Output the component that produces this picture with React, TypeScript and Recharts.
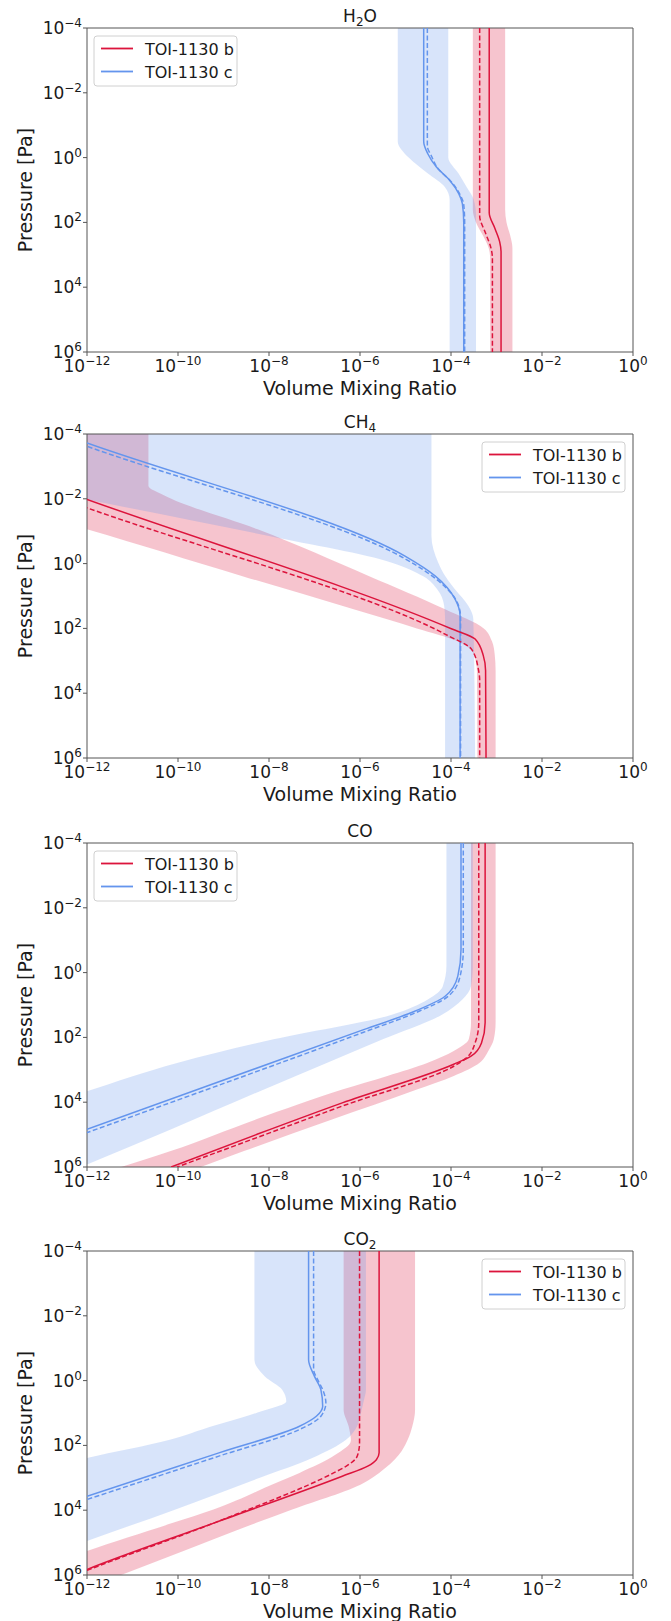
import React from 'react';
import { ComposedChart, Area, Line, XAxis, YAxis, ReferenceArea } from 'recharts';

// All values are log10 exponents: p = log10(Pressure [Pa]), v = log10(VMR)
const xTicks = [-12, -10, -8, -6, -4, -2, 0];
const yTicks = [-4, -2, 0, 2, 4, 6];
const planetNames = ['TOI-1130 b', 'TOI-1130 c'];
const planetColors = ['#DC143C', '#6495ED'];
const panelTops = [28, 434, 843, 1251];

// ---------- H2O ----------
// band rows: [p, low, high]
const h2oBBand = [[-4, -3.52, -2.81], [1.6, -3.52, -2.81], [2.0, -3.45, -2.78], [2.4, -3.3, -2.7], [2.8, -3.17, -2.65], [3.1, -3.14, -2.65], [6, -3.14, -2.65]];
const h2oBMedian = [[-4, -3.16], [1.7, -3.16], [2.2, -3.03], [2.6, -2.93], [2.9, -2.9], [6, -2.9]];
const h2oBDashed = [[-4, -3.37], [1.8, -3.37], [2.3, -3.25], [2.8, -3.12], [3.1, -3.09], [6, -3.09]];
const h2oCBand = [[-4, -5.17, -4.06], [-0.5, -5.17, -4.06], [0.0, -4.93, -4.06], [0.5, -4.5, -3.83], [0.9, -4.14, -3.66], [1.3, -4.03, -3.5], [1.8, -4.03, -3.45], [6, -4.03, -3.45]];
const h2oCMedian = [[-4, -4.6], [-0.5, -4.6], [-0.12, -4.51], [0.29, -4.32], [0.7, -4.03], [1.11, -3.83], [1.42, -3.75], [2.0, -3.72], [6, -3.72]];
const h2oCDashed = [[-4, -4.52], [-0.35, -4.52], [-0.05, -4.43], [0.35, -4.28], [0.72, -4.01], [1.12, -3.81], [1.45, -3.72], [2.0, -3.7], [6, -3.7]];

// ---------- CH4 ----------
const ch4BBandLowHigh = [[-4, -19.3, -10.65], [-2.4, -15.3, -10.65], [-2.1, -14.6, -10.3], [-1.06, -12, -8.25], [0.38, -8.6, -5.81], [1.41, -6.14, -4.13], [2.0, -4.75, -3.28], [2.4, -3.85, -3.1], [2.8, -3.5, -3.04], [3.3, -3.43, -3.02], [6, -3.42, -3.02]];
const ch4BMedian = [[-4, -16.0], [-1.98, -12], [2.02, -3.98], [2.33, -3.47], [2.84, -3.29], [3.3, -3.24], [6, -3.23]];
const ch4BDashed = [[-4, -16.6], [-1.72, -12], [2.2, -4.1], [2.64, -3.55], [3.25, -3.4], [3.6, -3.37], [6, -3.37]];
const ch4CBand = [[-4, -19, -4.43], [-1.98, -12, -4.43], [-0.85, -8.0, -4.43], [-0.03, -5.3, -4.28], [0.4, -4.6, -4.12], [0.8, -4.3, -3.91], [1.3, -4.15, -3.62], [1.7, -4.13, -3.51], [6, -4.13, -3.47]];
const ch4CMedian = [[-4, -12.56], [-3.72, -12], [-0.23, -5.01], [0.38, -4.35], [1.1, -3.91], [1.61, -3.8], [6, -3.8]];
const ch4CDashed = [[-4, -12.76], [-3.62, -12], [-0.15, -5.01], [0.45, -4.35], [1.15, -3.88], [1.65, -3.79], [6, -3.79]];

// ---------- CO ----------
const coBBand = [[-4, -3.56, -3.02], [1.55, -3.56, -3.02], [2.06, -3.61, -3.06], [2.42, -3.94, -3.18], [2.78, -4.51, -3.37], [3.19, -5.4, -3.94], [3.61, -6.39, -4.75], [4.53, -8.28, -6.6], [5.51, -10.16, -8.55], [6, -11.25, -9.5]];
const coBMedian = [[-4, -3.25], [1.55, -3.25], [2.17, -3.33], [2.58, -3.56], [2.83, -3.94], [4.02, -6.39], [5.0, -8.28], [6, -10.15]];
const coBDashed = [[-4, -3.39], [1.55, -3.39], [2.17, -3.47], [2.63, -3.66], [2.89, -3.94], [4.12, -6.39], [5.1, -8.28], [6, -10.02]];
const coCBand = [[-4, -4.1, -3.52], [-0.2, -4.1, -3.52], [0.42, -4.18, -3.56], [0.83, -4.51, -3.75], [1.3, -5.3, -4.2], [2.06, -7.9, -5.5], [2.78, -10.0, -6.72], [3.66, -12, -8.2], [4.84, -14.5, -10.16], [6, -16.9, -12.13]];
const coCMedian = [[-4, -3.78], [-0.71, -3.78], [0.11, -3.85], [0.73, -4.13], [1.24, -4.88], [1.76, -5.92], [4.84, -12], [6, -14.3]];
const coCDashed = [[-4, -3.73], [-0.71, -3.73], [0.11, -3.8], [0.73, -4.06], [1.24, -4.78], [1.84, -5.92], [4.94, -12], [6, -14.1]];

// ---------- CO2 ----------
const co2BBand = [[-4, -6.36, -4.79], [0.9, -6.36, -4.79], [1.41, -6.25, -4.85], [1.85, -6.2, -4.96], [2.3, -6.55, -5.15], [2.85, -7.33, -5.58], [3.16, -7.85, -5.92], [3.98, -9.22, -7.49], [4.39, -10.11, -8.28], [5.26, -12, -9.88], [6, -13.4, -11.25]];
const co2BMedian = [[-4, -5.58], [2.23, -5.58], [2.44, -5.64], [2.64, -5.83], [2.95, -6.39], [4.39, -9.2], [5.83, -12], [6, -12.3]];
const co2BDashed = [[-4, -6.01], [1.92, -6.01], [2.33, -6.06], [2.64, -6.3], [2.85, -6.58], [4.39, -9.2], [5.86, -12], [6, -12.25]];
const co2CBand = [[-4, -8.32, -5.87], [-0.64, -8.32, -5.87], [-0.13, -8.09, -5.87], [0.28, -7.71, -5.87], [0.64, -7.62, -5.92], [1.0, -8.28, -5.98], [1.5, -9.45, -6.1], [1.82, -10.16, -6.3], [2.39, -12, -7.05], [3.0, -13.7, -8.2], [4.0, -16.5, -10.1], [4.95, -19, -12], [6, -21.5, -14]];
const co2CMedian = [[-4, -7.13], [-0.64, -7.13], [-0.13, -7.0], [0.28, -6.86], [0.79, -6.82], [1.1, -6.96], [1.41, -7.33], [2.23, -9.1], [3.57, -12], [6, -17.2]];
const co2CDashed = [[-4, -7.02], [-0.35, -7.02], [0.0, -6.92], [0.28, -6.82], [0.69, -6.75], [1.1, -6.86], [1.51, -7.33], [2.33, -9.1], [3.67, -12], [6, -17.0]];

const FONT = '"DejaVu Sans", Verdana, sans-serif';
const TEXT = '#1a1a1a';

const toLine = (a: number[][]) => a.map(([p, v]) => ({ p, v }));
const toBand = (a: number[][]) => a.map(([p, lo, hi]) => ({ p, v: [lo, hi] }));

type TitlePart = [string, 'n' | 'sub'];

const panels = [
  { title: [['H', 'n'], ['2', 'sub'], ['O', 'n']] as TitlePart[], legend: 'left', b: [h2oBBand, h2oBMedian, h2oBDashed], c: [h2oCBand, h2oCMedian, h2oCDashed] },
  { title: [['CH', 'n'], ['4', 'sub']] as TitlePart[], legend: 'right', b: [ch4BBandLowHigh, ch4BMedian, ch4BDashed], c: [ch4CBand, ch4CMedian, ch4CDashed] },
  { title: [['CO', 'n']] as TitlePart[], legend: 'left', b: [coBBand, coBMedian, coBDashed], c: [coCBand, coCMedian, coCDashed] },
  { title: [['CO', 'n'], ['2', 'sub']] as TitlePart[], legend: 'right', b: [co2BBand, co2BMedian, co2BDashed], c: [co2CBand, co2CMedian, co2CDashed] },
];

const fmtExp = (n: number) => (n < 0 ? '\u2212' + Math.abs(n) : String(n));

const XTick = (props: any) => {
  const { x, y, payload } = props;
  return (
    <text x={x} y={y + 16} textAnchor="middle" fontFamily={FONT} fontSize={17} fill={TEXT}>
      10<tspan dy={-7} fontSize={12}>{fmtExp(payload.value)}</tspan>
    </text>
  );
};

const YTick = (props: any) => {
  const { x, y, payload } = props;
  return (
    <text x={x - 1} y={y + 6} textAnchor="end" fontFamily={FONT} fontSize={17} fill={TEXT}>
      10<tspan dy={-7} fontSize={12}>{fmtExp(payload.value)}</tspan>
    </text>
  );
};

const W = 671;
const H = 408;
const PT = 28;
const PH = 324;
const PL = 87;
const PR = 633;

function Overlay({ title, legend }: { title: TitlePart[]; legend: string }) {
  const cx = (PL + PR) / 2;
  const boxW = 143;
  const boxH = 50;
  const bx = legend === 'left' ? PL + 7 : PR - 8 - boxW;
  const by = PT + 8;
  return (
    <svg width={W} height={H} style={{ position: 'absolute', left: 0, top: 0, pointerEvents: 'none' }}>
      <text x={cx} y={PT - 6} textAnchor="middle" fontFamily={FONT} fontSize={17} fill={TEXT}>
        {title.map(([t, k], i) =>
          k === 'sub' ? (
            <tspan key={i} dy={4} fontSize={12}>{t}</tspan>
          ) : (
            <tspan key={i} dy={i > 0 && title[i - 1][1] === 'sub' ? -4 : 0}>{t}</tspan>
          )
        )}
      </text>
      <text x={cx} y={PT + PH + 43} textAnchor="middle" fontFamily={FONT} fontSize={19} fill={TEXT}>
        Volume Mixing Ratio
      </text>
      <text x={32} y={PT + PH / 2} textAnchor="middle" fontFamily={FONT} fontSize={19} fill={TEXT} transform={`rotate(-90 32 ${PT + PH / 2})`}>
        Pressure [Pa]
      </text>
      <rect x={bx} y={by} width={boxW} height={boxH} rx={3} fill="#fff" fillOpacity={0.8} stroke="#d0d0d0" strokeWidth={1} />
      {planetNames.map((n, i) => (
        <g key={n}>
          <line x1={bx + 7} x2={bx + 39} y1={by + 12.5 + 23 * i} y2={by + 12.5 + 23 * i} stroke={planetColors[i]} strokeWidth={1.8} />
          <text x={bx + 51} y={by + 18.5 + 23 * i} fontFamily={FONT} fontSize={16} fill={TEXT}>{n}</text>
        </g>
      ))}
    </svg>
  );
}

function Panel({ top, panel }: { top: number; panel: any }) {
  const [bBand, bMed, bDash] = panel.b;
  const [cBand, cMed, cDash] = panel.c;
  const [RED, BLUE] = planetColors;
  return (
    <div style={{ position: 'absolute', left: 0, top: top - PT, width: W, height: H }}>
      <ComposedChart width={W} height={H} layout="vertical" margin={{ top: PT, right: W - PR, bottom: 0, left: 0 }}>
        <XAxis type="number" domain={[-12, 0]} ticks={xTicks} interval={0} allowDataOverflow axisLine={false}
          tickLine={{ stroke: '#555' }} tickSize={4} tickMargin={0} height={H - PT - PH} tick={XTick} />
        <YAxis type="number" dataKey="p" domain={[-4, 6]} ticks={yTicks} interval={0} allowDataOverflow axisLine={false}
          tickLine={{ stroke: '#555' }} tickSize={4} tickMargin={0} width={PL} tick={YTick} />
        <Area data={toBand(bBand)} dataKey="v" type="monotone" fill={RED} fillOpacity={0.25} stroke="none" isAnimationActive={false} activeDot={false} dot={false} />
        <Area data={toBand(cBand)} dataKey="v" type="monotone" fill={BLUE} fillOpacity={0.25} stroke="none" isAnimationActive={false} activeDot={false} dot={false} />
        <Line data={toLine(cDash)} dataKey="v" type="monotone" stroke={BLUE} strokeWidth={1.5} strokeDasharray="5 2.5" dot={false} activeDot={false} isAnimationActive={false} />
        <Line data={toLine(cMed)} dataKey="v" type="monotone" stroke={BLUE} strokeWidth={1.5} dot={false} activeDot={false} isAnimationActive={false} />
        <Line data={toLine(bDash)} dataKey="v" type="monotone" stroke={RED} strokeWidth={1.5} strokeDasharray="5 2.5" dot={false} activeDot={false} isAnimationActive={false} />
        <Line data={toLine(bMed)} dataKey="v" type="monotone" stroke={RED} strokeWidth={1.5} dot={false} activeDot={false} isAnimationActive={false} />
        <ReferenceArea x1={-12} x2={0} y1={-4} y2={6} fill="none" fillOpacity={0} stroke="#555" strokeWidth={1} ifOverflow="visible" />
      </ComposedChart>
      <Overlay title={panel.title} legend={panel.legend} />
    </div>
  );
}

export default function App() {
  return (
    <div style={{ position: 'absolute', left: 0, top: 0, width: W, height: 1621, background: '#fff' }}>
      {panels.map((pn, i) => (
        <Panel key={i} top={panelTops[i]} panel={pn} />
      ))}
    </div>
  );
}
